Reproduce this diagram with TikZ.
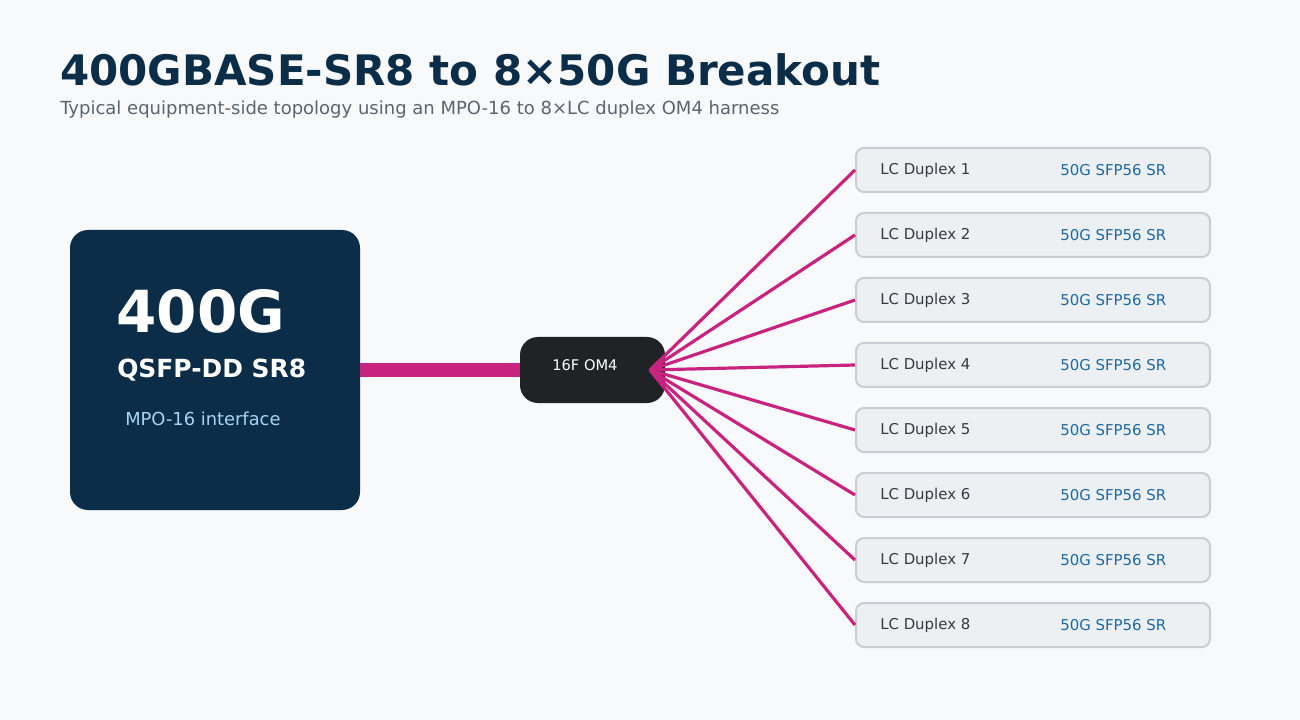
\documentclass[tikz,border=0pt]{standalone}
\usepackage{fontspec}
\setmainfont{DejaVu Sans}
\usetikzlibrary{positioning}

\definecolor{navy}{HTML}{0B2D48}
\definecolor{pagebg}{HTML}{F7F9FB}
\definecolor{subgray}{HTML}{5B6571}
\definecolor{fiber}{HTML}{C8237F}
\definecolor{hubdark}{HTML}{1F2326}
\definecolor{portfill}{HTML}{ECF0F3}
\definecolor{portline}{HTML}{C9CED4}
\definecolor{porttext}{HTML}{343A40}
\definecolor{sfpblue}{HTML}{1D67A3}
\definecolor{ifblue}{HTML}{A8D3F2}

\tikzset{
  portbox/.style={draw=portline,line width=1.5pt,fill=portfill,rounded corners=6pt,
    minimum width=265.5pt,minimum height=33pt,inner sep=0pt},
  fiberline/.style={draw=fiber,line width=2.4pt},
}

\begin{document}
\begin{tikzpicture}[x=0.75pt,y=-0.75pt]
% page
\fill[pagebg] (0,0) rectangle (1300,720);
\useasboundingbox (0,0) rectangle (1300,720);

% Title and subtitle
\node[anchor=base west,inner sep=0pt,text=navy,font=\bfseries\fontsize{31.5}{36}\selectfont] (title) at (60,86) {400GBASE-SR8 to 8×50G Breakout};
\node[anchor=base west,inner sep=0pt,text=subgray,font=\fontsize{13.5}{16}\selectfont] (subtitle) at (60,115) {Typical equipment-side topology using an MPO-16 to 8×LC duplex OM4 harness};

% Transceiver on the left
\node[fill=navy,rounded corners=13.5pt,minimum width=217.5pt,minimum height=210pt,inner sep=0pt] (qsfp) at (215,370) {};
\node[anchor=base west,inner sep=0pt,text=white,font=\bfseries\fontsize{43.5}{48}\selectfont] (speed) at (116,333) {400G};
\node[anchor=base west,inner sep=0pt,text=white,font=\bfseries\fontsize{18.7}{22}\selectfont] (formfactor) at (117,378) {QSFP-DD SR8};
\node[anchor=base west,inner sep=0pt,text=ifblue,font=\fontsize{13.4}{16}\selectfont] (mpo) at (125,426) {MPO-16 interface};

% Trunk and breakout point
\node[fill=hubdark,rounded corners=13.5pt,minimum width=108.75pt,minimum height=49.5pt,inner sep=0pt] (om4) at (592.5,370) {};
\node[anchor=base west,inner sep=0pt,text=white,font=\fontsize{11}{13}\selectfont] (om4label) at (552,371) {16F OM4};
\draw[fiber,line width=10.5pt] (qsfp.east) -- (om4.west);
\coordinate (hub) at (650,370);

% Eight LC duplex legs
\foreach \i in {1,...,8} {
  \node[portbox] (lc\i) at (1033,{170+65*(\i-1)}) {};
  \node[anchor=west,inner sep=0pt,text=porttext,font=\fontsize{11.2}{13}\selectfont] (lcname\i) at (880,{170.5+65*(\i-1)}) {LC Duplex \i};
  \node[anchor=west,inner sep=0pt,text=sfpblue,font=\fontsize{11.2}{13}\selectfont] (sfp\i) at (1060,{170.5+65*(\i-1)}) {50G SFP56 SR};
  \draw[fiberline] (hub) -- (lc\i.west);
}

\end{tikzpicture}
\end{document}
